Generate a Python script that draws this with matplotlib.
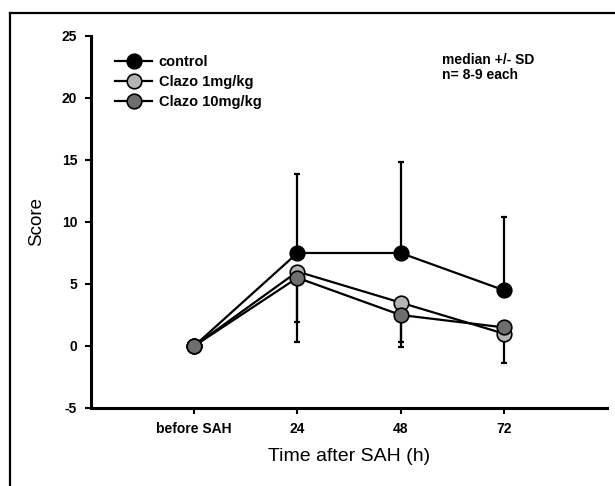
import numpy as np
import matplotlib
matplotlib.use('Agg')
from matplotlib import pyplot as plt
from matplotlib.lines import Line2D

plt.rcParams['font.family'] = ['Liberation Sans', 'DejaVu Sans']
plt.rcParams['axes.unicode_minus'] = False

# data
xlabels = ['before SAH', '24', '48', '72']
control = [0, 7.5, 7.5, 4.5]
control_sd_up = [0, 6.4, 7.3, 5.9]
clazo1 = [0, 6.0, 3.5, 1.0]
clazo1_sd_dn = [0, 5.7, 3.2, 2.4]
clazo10 = [0, 5.5, 2.5, 1.5]
clazo10_sd_dn = [0, 3.6, 2.6, 0.5]

x = np.arange(len(xlabels))
ms = 10.5
lw = 1.6

fig = plt.figure(figsize=(6.15, 4.86), dpi=100)
ax = fig.add_axes([0.148, 0.1605, 0.839, 0.7655])

# error bars (one-sided)
ax.errorbar(x, control, yerr=[np.zeros(4), control_sd_up], fmt='none',
            ecolor='black', elinewidth=lw, capsize=2.5, capthick=lw, zorder=2)
ax.errorbar(x, clazo1, yerr=[clazo1_sd_dn, np.zeros(4)], fmt='none',
            ecolor='black', elinewidth=lw, capsize=2.5, capthick=lw, zorder=2)
ax.errorbar(x, clazo10, yerr=[clazo10_sd_dn, np.zeros(4)], fmt='none',
            ecolor='black', elinewidth=lw, capsize=2.5, capthick=lw, zorder=2)

ax.plot(x, control, '-o', color='black', lw=lw, ms=ms, mfc='black',
        mec='black', mew=1.2, label='control', zorder=3)
ax.plot(x, clazo1, '-o', color='black', lw=lw, ms=ms, mfc='#b4b4b4',
        mec='black', mew=1.2, label='Clazo 1mg/kg', zorder=4)
ax.plot(x, clazo10, '-o', color='black', lw=lw, ms=ms, mfc='#6e6e6e',
        mec='black', mew=1.2, label='Clazo 10mg/kg', zorder=5)

ax.set_xlim(-1, 4)
ax.set_ylim(-5, 25)
ax.set_xticks(x)
ax.set_xticklabels(xlabels)
ax.set_yticks(np.arange(-5, 26, 5))
ax.tick_params(direction='out', length=4, width=1.5, labelsize=10, pad=6)
for lab in ax.get_xticklabels() + ax.get_yticklabels():
    lab.set_fontweight('bold')
for s in ['top', 'right']:
    ax.spines[s].set_visible(False)
for s in ['left', 'bottom']:
    ax.spines[s].set_linewidth(2.2)

ax.set_xlabel('Time after SAH (h)', fontsize=14, labelpad=9)
ax.set_ylabel('Score', fontsize=13.5, labelpad=12)

leg = ax.legend(loc='upper left', bbox_to_anchor=(0.022, 0.985), frameon=False,
                prop={'weight': 'bold', 'size': 10.5}, handlelength=2.5,
                labelspacing=0.42, handletextpad=0.45)

ax.text(0.68, 0.955, 'median +/- SD\nn= 8-9 each', transform=ax.transAxes,
        fontsize=10, fontweight='bold', va='top', linespacing=1.1)

# outer frame (left and top edges)
fig.add_artist(Line2D([10/615, 10/615], [0, 1 - 13/486], transform=fig.transFigure,
                      color='black', lw=1.6))
fig.add_artist(Line2D([10/615, 1], [1 - 13/486, 1 - 13/486], transform=fig.transFigure,
                      color='black', lw=1.6))

fig.savefig('out.png', dpi=100)
